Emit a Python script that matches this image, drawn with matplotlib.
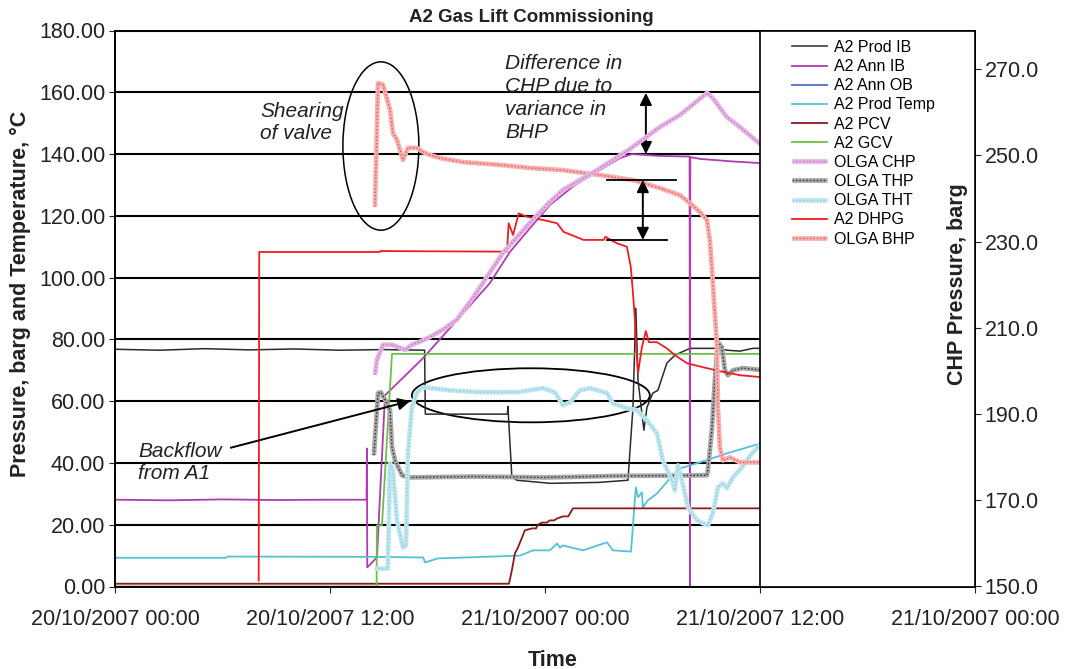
import numpy as np
import matplotlib.pyplot as plt
from matplotlib.patches import Ellipse, Rectangle

plt.rcParams['font.family'] = ['Liberation Sans', 'DejaVu Sans']

# time in hours from 20/10/2007 00:00
tick_hours = [0, 12, 24, 36, 48]
tick_labels = ['20/10/2007 00:00', '20/10/2007 12:00', '21/10/2007 00:00',
               '21/10/2007 12:00', '21/10/2007 00:00']

prod_ib_t = [0, 2.5, 5.0, 7.5, 10.0, 12.5, 15.0, 17.28, 17.32, 21.90, 21.93, 22.15, 22.43,
             24.3, 27.0, 28.63, 28.91, 29.07, 29.19, 29.52, 29.69, 30.02, 30.30, 30.80,
             31.25, 32.09, 33.59, 34.15, 34.88, 35.60, 36.2]
prod_ib_v = [76.8, 76.5, 77.0, 76.6, 76.9, 76.5, 76.7, 76.5, 55.8, 55.8, 58.3, 35.5, 34.4,
             33.4, 33.7, 34.4, 58.0, 90.1, 66.8, 50.6, 58.0, 62.6, 63.5, 72.3,
             74.9, 77.1, 77.1, 76.5, 76.2, 77.1, 77.1]

ann_ib_t = [0, 3.0, 6.0, 9.0, 12.0, 14.04, 14.06, 14.08, 14.62, 15.07, 17.19, 19.08, 20.92,
            22.04, 23.16, 24.27, 25.67, 27.06, 28.18, 28.85, 30.41, 32.07, 32.09, 32.11,
            32.7, 34.5, 36.2]
ann_ib_v = [28.1, 27.9, 28.2, 28.0, 28.1, 28.1, 44.7, 6.2, 9.4, 61.9, 73.9, 86.2, 98.2,
            108.3, 116.0, 123.5, 130.0, 134.8, 138.7, 140.0, 139.4, 139.2, 0.0, 139.0,
            138.4, 137.6, 137.0]

prod_temp_t = [0, 6.2, 6.3, 14.5, 17.2, 17.30, 18.02, 22.60, 23.33, 24.27, 24.67, 24.83,
               25.00, 26.12, 27.46, 27.79, 28.80, 29.07, 29.19, 29.41, 29.46, 29.74, 30.25,
               30.97, 31.53, 32.65, 34.15, 36.2]
prod_temp_v = [9.3, 9.3, 9.7, 9.6, 9.4, 7.8, 9.1, 10.0, 11.7, 11.7, 13.9, 12.6,
               13.3, 11.7, 14.3, 11.7, 11.3, 32.1, 28.9, 30.5, 25.6, 27.9, 30.1,
               35.0, 38.2, 40.2, 43.1, 46.6]

pcv_t = [0, 21.99, 22.15, 22.32, 22.49, 22.88, 23.27, 23.50, 23.60, 23.83, 24.10, 24.27,
         24.50, 24.67, 25.00, 25.30, 25.56, 36.2]
pcv_v = [0.9, 0.9, 5.2, 10.7, 12.6, 18.2, 18.8, 18.8, 20.0, 20.7, 20.7, 21.4,
         21.4, 22.0, 22.7, 22.7, 25.3, 25.3]

gcv_t = [0, 14.60, 14.62, 14.90, 15.46, 36.2]
gcv_v = [0, 0, 19.8, 19.8, 75.3, 75.3]

chp_t = [14.51, 14.62, 14.96, 15.46, 15.90, 16.18, 16.57, 17.02, 17.58, 18.30, 19.08, 19.98,
         21.65, 23.16, 24.27, 25.00, 26.90, 28.74, 30.41, 31.53, 33.04, 33.37, 34.15, 34.88,
         36.2]
chp_v = [199.1, 202.6, 206.1, 206.1, 205.4, 204.9, 206.1, 206.8, 207.9, 209.6, 211.9, 217.0,
         227.4, 234.4, 239.2, 242.0, 246.6, 251.5, 256.6, 259.4, 264.5, 263.3, 258.9, 256.6,
         252.0]

thp_t = [14.45, 14.68, 14.84, 15.18, 15.35, 15.46, 15.63, 16.02, 16.35, 20.0, 24.0, 28.0,
         33.04, 33.09, 33.31, 33.48, 33.65, 33.87, 34.04, 34.21, 34.49, 35.04, 36.2]
thp_v = [42.5, 62.6, 62.9, 59.3, 57.1, 45.1, 40.8, 36.0, 35.3, 35.6, 35.3, 35.8,
         36.0, 37.6, 50.6, 66.8, 79.1, 77.5, 70.0, 68.4, 70.0, 70.7, 70.0]

tht_t = [14.51, 15.23, 15.35, 15.51, 15.74, 16.07, 16.24, 16.35, 16.57, 16.85, 17.19, 18.69,
         20.37, 22.43, 23.88, 24.55, 25.00, 25.39, 25.95, 26.51, 27.46, 27.79, 28.57, 29.13,
         29.69, 30.25, 30.58, 31.08, 31.25, 31.42, 31.64, 31.98, 32.48, 33.09, 33.37, 33.65,
         33.93, 34.15, 34.49, 34.99, 35.55, 36.10]
tht_v = [5.8, 5.8, 39.9, 37.6, 21.4, 12.6, 13.3, 43.1, 58.0, 62.9, 64.5, 63.5,
         62.9, 62.9, 64.2, 62.9, 58.7, 59.6, 63.5, 64.2, 62.6, 59.3, 57.7, 57.1,
         53.8, 49.6, 40.8, 34.4, 31.1, 39.2, 34.4, 25.6, 21.4, 19.8, 23.7, 32.1,
         33.4, 31.8, 35.3, 38.6, 43.1, 46.4]

dhpg_t = [8.02, 8.05, 14.79, 14.82, 21.88, 21.97, 22.22, 22.53, 23.00, 23.93, 24.67, 25.04,
          26.16, 27.28, 27.37, 28.02, 28.57, 28.79, 28.91, 29.02, 29.07, 29.19, 29.41, 29.63,
          29.80, 30.25, 30.80, 31.25, 31.92, 32.81, 33.76, 34.88, 36.2]
dhpg_v = [1.9, 108.3, 108.3, 108.6, 108.4, 117.6, 113.8, 120.8, 119.7, 118.6, 117.6, 114.8,
          112.2, 112.2, 113.2, 111.1, 110.0, 103.4, 95.0, 86.2, 79.7, 69.0, 77.5, 82.7,
          79.1, 79.1, 77.1, 74.9, 72.3, 71.0, 69.7, 68.4, 67.7]

bhp_t = [14.51, 14.68, 14.96, 15.35, 15.51, 15.74, 16.07, 16.35, 16.85, 17.19, 17.58, 18.14,
         19.42, 21.48, 23.16, 25.00, 27.06, 28.91, 30.41, 31.53, 32.09, 32.65, 33.04, 33.20,
         33.31, 33.48, 33.59, 33.65, 33.76, 33.93, 34.32, 34.88, 36.2]
bhp_v = [122.9, 163.0, 162.4, 154.3, 146.8, 144.6, 138.1, 142.0, 142.0, 140.7, 139.7, 138.7,
         137.4, 136.5, 135.5, 134.8, 133.2, 131.6, 129.0, 126.7, 124.1, 121.2, 118.6, 112.2,
         103.4, 88.5, 78.8, 58.0, 45.1, 40.8, 41.8, 40.2, 40.2]

fig = plt.figure(figsize=(10.66, 6.69), dpi=100)
ax = fig.add_axes([115 / 1066, 1 - 586.5 / 669, 860 / 1066, 556 / 669])
ax2 = ax.twinx()

def olga(axis, t, v, light, dark):
    base, = axis.plot(t, v, color=light, lw=3.4, solid_capstyle='butt')
    dots, = axis.plot(t, v, color=dark, lw=1.0, ls=(0, (1, 1.5)))
    return (base, dots)

h1, = ax.plot(prod_ib_t, prod_ib_v, color='#2b2b2b', lw=1.1)
h2, = ax.plot(ann_ib_t, ann_ib_v, color='#b03cb0', lw=1.3)
h3, = ax.plot([], [], color='#4a6fc8', lw=1.3)
h4, = ax.plot(prod_temp_t, prod_temp_v, color='#52c3d6', lw=1.3)
h5, = ax.plot(pcv_t, pcv_v, color='#8b1a1a', lw=1.3)
h6, = ax.plot(gcv_t, gcv_v, color='#6cc04a', lw=1.3)
h8 = olga(ax, thp_t, thp_v, '#a8a8a8', '#303030')
h9 = olga(ax, tht_t, tht_v, '#bfe6ee', '#8ccfdd')
h10, = ax.plot(dhpg_t, dhpg_v, color='#ee1c24', lw=1.3)
h11 = olga(ax, bhp_t, bhp_v, '#f6b0b0', '#e06060')
h7 = olga(ax2, chp_t, chp_v, '#e4b4e4', '#c47ac4')

ax.set_xlim(0, 48)
ax.set_ylim(0, 180)
ax2.set_ylim(150, 279)
ax.set_yticks(np.arange(0, 181, 20))
ax.set_yticklabels(['%.2f' % v for v in np.arange(0, 181, 20)])
ax2.set_yticks(np.arange(150, 271, 20))
ax2.set_yticklabels(['%.1f' % v for v in np.arange(150, 271, 20)])
ax.set_xticks(tick_hours)
ax.set_xticklabels(tick_labels)
ax.yaxis.grid(True, color='black', lw=1.5)
ax.set_axisbelow(True)
ax.tick_params(axis='y', labelsize=15.5, length=4, pad=3, colors='#222222')
ax.tick_params(axis='x', labelsize=15.5, length=4, pad=12, colors='#222222')
ax2.tick_params(axis='y', labelsize=15.5, length=4, pad=3, colors='#222222')
for a in (ax, ax2):
    for s in a.spines.values():
        s.set_color('black')
        s.set_linewidth(1.2)

# white legend panel over the last twelve hours
ax2.add_patch(Rectangle((0.75, 0), 0.25, 1, transform=ax2.transAxes, fc='white',
                        ec='black', lw=1.2, zorder=10, clip_on=False))
leg = ax2.legend([h1, h2, h3, h4, h5, h6, h7, h8, h9, h10, h11],
                 ['A2 Prod IB', 'A2 Ann IB', 'A2 Ann OB', 'A2 Prod Temp', 'A2 PCV',
                  'A2 GCV', 'OLGA CHP', 'OLGA THP', 'OLGA THT', 'A2 DHPG', 'OLGA BHP'],
                 loc='upper left', bbox_to_anchor=(792 / 1066, 1 - 40 / 669),
                 bbox_transform=fig.transFigure, frameon=False, fontsize=11.5,
                 borderpad=0, borderaxespad=0, handlelength=2.2, handletextpad=0.4,
                 labelspacing=0.26)
leg.set_zorder(12)

# annotations
note = dict(fontsize=15, style='italic', color='#222222')
ax.add_patch(Ellipse((14.84, 142.6), 4.24, 54.5, fill=False, ec='black', lw=1.1))
ax.add_patch(Ellipse((23.21, 61.9), 13.28, 17.5, fill=False, ec='black', lw=1.3))
ax.text(8.09, 150.3, 'Shearing\nof valve', ha='left', va='center', linespacing=1.2, **note)
ax.text(21.76, 158.2, 'Difference in\nCHP due to\nvariance in\nBHP', ha='left', va='center',
        linespacing=1.28, **note)
ax.text(1.28, 40.0, 'Backflow\nfrom A1', ha='left', va='center', linespacing=1.2, **note)
ax.annotate('', xy=(16.63, 60.3), xytext=(6.31, 44.7),
            arrowprops=dict(arrowstyle='-|>', color='black', lw=1.4, mutation_scale=18))
ax.annotate('', xy=(29.63, 159.8), xytext=(29.63, 140.0),
            arrowprops=dict(arrowstyle='<|-|>', color='black', lw=1.4, mutation_scale=18,
                            shrinkA=0, shrinkB=0))
ax.annotate('', xy=(29.46, 131.6), xytext=(29.46, 112.2),
            arrowprops=dict(arrowstyle='<|-|>', color='black', lw=1.4, mutation_scale=18,
                            shrinkA=0, shrinkB=0))
ax.plot([27.46, 31.31], [131.6, 131.6], color='black', lw=1.3)
ax.plot([27.46, 30.80], [112.2, 112.2], color='black', lw=1.3)

fig.text(531 / 1066, 1 - 18 / 669, 'A2 Gas Lift Commissioning', ha='center', va='center',
         fontsize=13.5, weight='bold', color='#222222')
fig.text(20 / 1066, 1 - 294 / 669, 'Pressure, barg and Temperature, °C', rotation=90,
         ha='center', va='center', fontsize=15.5, weight='bold', color='#222222')
fig.text(957 / 1066, 1 - 284 / 669, 'CHP Pressure, barg', rotation=90,
         ha='center', va='center', fontsize=15.5, weight='bold', color='#222222')
fig.text(553 / 1066, 1 - 660 / 669, 'Time', ha='center', va='center',
         fontsize=15.5, weight='bold', color='#222222')

fig.savefig('out.png', dpi=100)
